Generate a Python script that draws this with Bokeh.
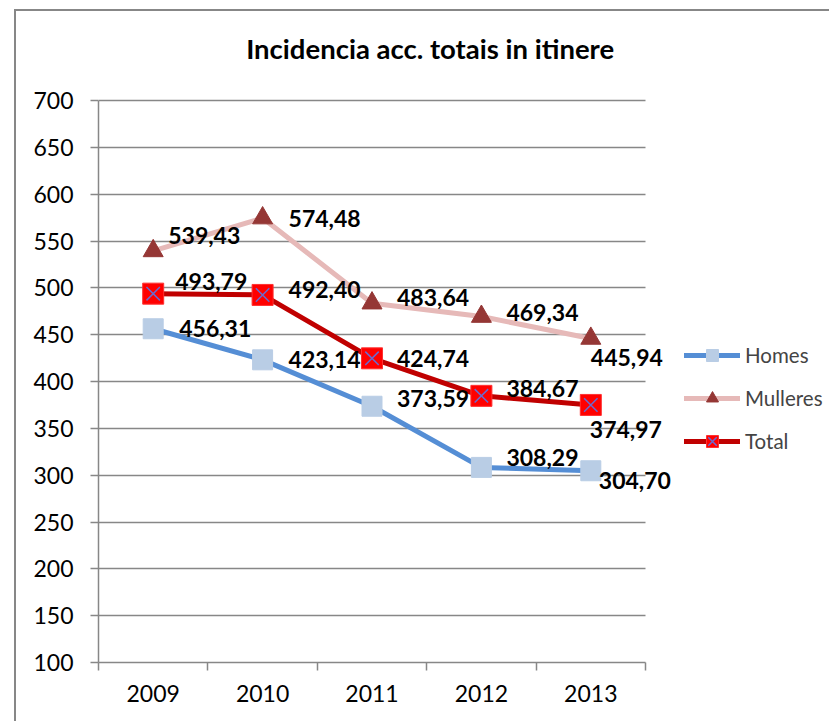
from bokeh.plotting import figure
from bokeh.models import ColumnDataSource, FixedTicker, Legend, LegendItem, Label, Range1d
from bokeh.embed import file_html
from bokeh.resources import INLINE
from bokeh.core.properties import value

# ---- data ----
years = ["2009", "2010", "2011", "2012", "2013"]
homes = [456.31, 423.14, 373.59, 308.29, 304.70]
mulleres = [539.43, 574.48, 483.64, 469.34, 445.94]
total = [493.79, 492.40, 424.74, 384.67, 374.97]
y_ticks = [100, 150, 200, 250, 300, 350, 400, 450, 500, 550, 600, 650, 700]
title_text = "Incidencia  acc. totais in itinere"
series_names = ["Homes", "Mulleres", "Total"]

# ---- label placement (screen px, styling only) ----
homes_dx = [26, 26, 25, 25, 8]
homes_dy = [0, 0, -8, -10, 10]
mulleres_dx = [15, 26, 25, 25, 0]
mulleres_dy = [-15, 0, -6, -4, 19]
total_dx = [22, 26, 25, 25, -1]
total_dy = [-12, -5, 0, -7, 25]

FONT = "Lato"
GRAY = "#878787"

n = len(years)
xs = [i + 0.5 for i in range(n)]
y_min, y_max = y_ticks[0], y_ticks[-1]

# geometry (px): canvas placed at (16, 11) after a CSS border; plot area 547 x 562
W, H = 815, 712
LEFT, BOTTOM = 82, 61
PLOT_W, PLOT_H = 547, 562
frame_w = W - LEFT
frame_h = H - BOTTOM
x_end = n * frame_w / PLOT_W
y_end = y_min + (y_max - y_min) * frame_h / PLOT_H


def fmt(v):
    return f"{v:.2f}".replace(".", ",")


p = figure(width=W, height=H, x_range=Range1d(0, x_end), y_range=Range1d(y_min, y_end),
           output_backend="svg", toolbar_location=None,
           min_border_left=LEFT, min_border_right=0, min_border_top=0, min_border_bottom=BOTTOM)
p.styles = {"margin-left": "14px", "margin-top": "9px",
            "border-left": f"2px solid {GRAY}", "border-top": f"2px solid {GRAY}",
            "border-right": "none", "border-bottom": "none", "outline": "none"}
p.outline_line_color = None
p.background_fill_color = "white"
p.border_fill_color = "white"

# axes
p.xaxis.ticker = FixedTicker(ticks=xs, minor_ticks=list(range(n + 1)))
p.xaxis.major_label_overrides = {x: y for x, y in zip(xs, years)}
p.xaxis.bounds = (0, n)
p.xaxis.major_tick_out = 0
p.xaxis.major_tick_in = 0
p.xaxis.minor_tick_out = 8
p.xaxis.minor_tick_in = 0
p.xaxis.minor_tick_line_color = GRAY
p.xaxis.minor_tick_line_width = 1.5
p.xaxis.major_label_standoff = 14

p.yaxis.ticker = FixedTicker(ticks=y_ticks)
p.yaxis.bounds = (y_min, y_max)
p.yaxis.major_tick_out = 8
p.yaxis.major_tick_in = 0
p.yaxis.minor_tick_line_color = None
p.yaxis.major_label_standoff = 17
p.yaxis.major_tick_line_color = GRAY
p.yaxis.major_tick_line_width = 1.5

for ax in (p.xaxis[0], p.yaxis[0]):
    ax.axis_line_color = GRAY
    ax.axis_line_width = 1.5
    ax.major_label_text_font = FONT
    ax.major_label_text_font_size = "23px"
    ax.major_label_text_color = "black"

p.xgrid.visible = False
p.ygrid.ticker = FixedTicker(ticks=y_ticks)
p.ygrid.cross_bounds = (0, n)
p.ygrid.grid_line_color = GRAY
p.ygrid.grid_line_width = 1.5

# series
r_h_line = p.line(xs, homes, line_color="#558ED5", line_width=5, line_join="round", line_cap="round")
r_m_line = p.line(xs, mulleres, line_color="#E6B9B8", line_width=5, line_join="round", line_cap="round")
r_t_line = p.line(xs, total, line_color="#C00000", line_width=5, line_join="round", line_cap="round")

r_h_pts = p.scatter(xs, homes, marker="square", size=20, fill_color="#B9CDE5", line_color="#B9CDE5")
r_m_pts = p.scatter(xs, mulleres, marker="triangle", size=20, fill_color="#953735", line_color="#953735")
r_t_pts = p.scatter(xs, total, marker="square", size=21, fill_color="#FF0000", line_color="#FF3030")
r_t_x = p.scatter(xs, total, marker="x", size=19, line_color="#6A6AD0", line_width=1.5)

# data labels
for vals, dx, dy in ((homes, homes_dx, homes_dy), (mulleres, mulleres_dx, mulleres_dy),
                     (total, total_dx, total_dy)):
    src = ColumnDataSource(dict(x=xs, y=vals, t=[fmt(v) for v in vals], dx=dx, dy=dy))
    p.text(x="x", y="y", text="t", x_offset="dx", y_offset="dy", source=src,
           text_font=value(FONT), text_font_style="bold", text_font_size="23px",
           text_color="black", text_align="left", text_baseline="middle")

# title (screen units relative to the frame's bottom-left)
p.add_layout(Label(x=335, y=614, x_units="screen", y_units="screen", text=title_text,
                   text_font=FONT, text_font_style="bold", text_font_size="27.5px",
                   text_align="center", text_baseline="middle", text_color="black"))

legend = Legend(items=[LegendItem(label=series_names[0], renderers=[r_h_line, r_h_pts]),
                       LegendItem(label=series_names[1], renderers=[r_m_line, r_m_pts]),
                       LegendItem(label=series_names[2], renderers=[r_t_line, r_t_pts, r_t_x])],
                location=(586, 206), orientation="vertical", border_line_color=None,
                background_fill_alpha=0, padding=0, margin=0, spacing=13,
                glyph_width=56, glyph_height=30, label_height=24, label_standoff=5,
                label_text_font=FONT, label_text_font_size="20.5px")
p.add_layout(legend)

open("out.html", "w").write(file_html(p, INLINE))
